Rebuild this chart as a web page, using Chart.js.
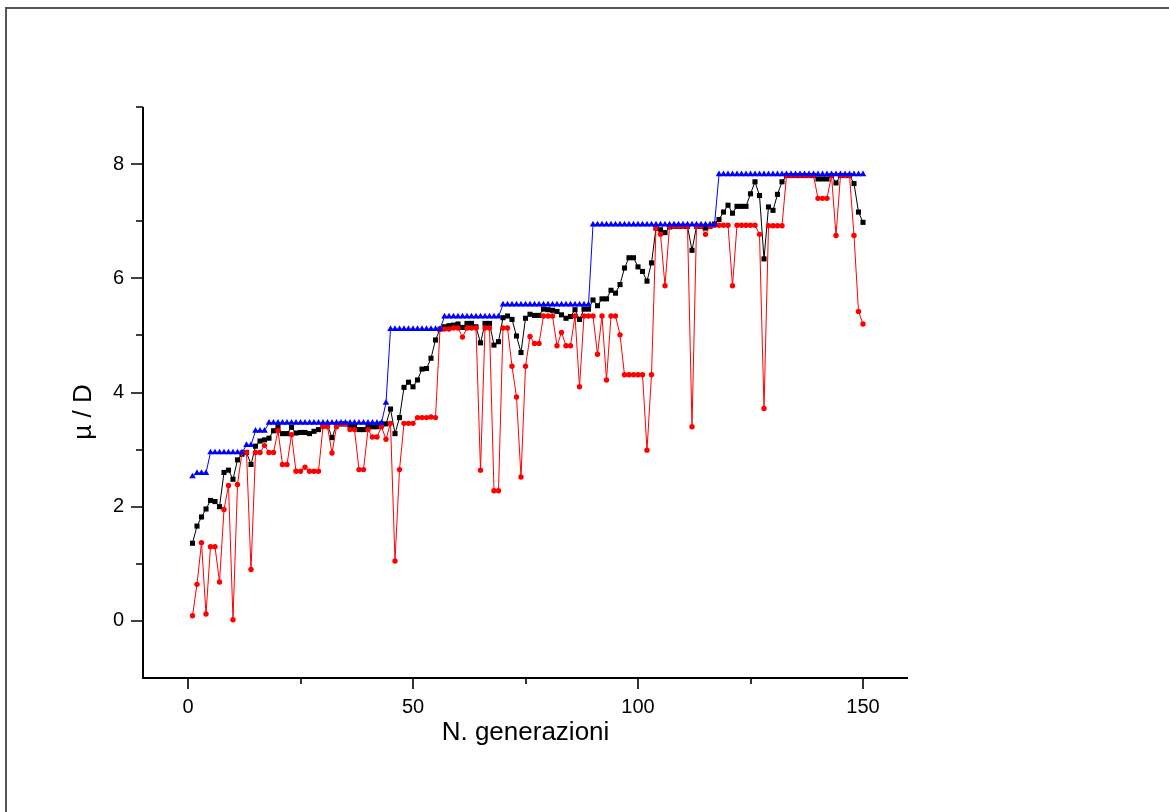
<!DOCTYPE html>
<html lang="it">
<head>
<meta charset="utf-8">
<title>mu / D per generazione</title>
<script src="https://cdn.jsdelivr.net/npm/chart.js@4.4.1/dist/chart.umd.min.js"></script>
<style>
  html, body { margin: 0; padding: 0; background: #fff; overflow: hidden; }
  #cornice { position: absolute; left: 5px; top: 7px; width: 1400px; height: 1000px; border: 2px solid #555; pointer-events: none; }
  #grafico { position: absolute; left: 0; top: 0; display: block; }
</style>
</head>
<body>
<div id="cornice"></div>
<canvas id="grafico" width="1169" height="812"></canvas>
<script>
// generazioni 1..150
const generazioni = Array.from({ length: 150 }, (_, i) => i + 1);

// valore massimo (blu, triangoli)
const valoriMax = [
  2.53, 2.59, 2.59, 2.59, 2.95, 2.95, 2.95, 2.95, 2.95, 2.95,
  2.95, 2.95, 3.08, 3.08, 3.33, 3.33, 3.33, 3.47, 3.47, 3.47,
  3.47, 3.47, 3.47, 3.47, 3.47, 3.47, 3.47, 3.47, 3.47, 3.47,
  3.47, 3.47, 3.47, 3.47, 3.47, 3.47, 3.47, 3.47, 3.47, 3.47,
  3.47, 3.47, 3.47, 3.82, 5.11, 5.11, 5.11, 5.11, 5.11, 5.11,
  5.11, 5.11, 5.11, 5.11, 5.11, 5.11, 5.33, 5.33, 5.33, 5.33,
  5.33, 5.33, 5.33, 5.33, 5.33, 5.33, 5.33, 5.33, 5.33, 5.54,
  5.54, 5.54, 5.54, 5.54, 5.54, 5.54, 5.54, 5.54, 5.54, 5.54,
  5.54, 5.54, 5.54, 5.54, 5.54, 5.54, 5.54, 5.54, 5.54, 6.94,
  6.94, 6.94, 6.94, 6.94, 6.94, 6.94, 6.94, 6.94, 6.94, 6.94,
  6.94, 6.94, 6.94, 6.94, 6.94, 6.94, 6.94, 6.94, 6.94, 6.94,
  6.94, 6.94, 6.94, 6.94, 6.94, 6.94, 6.94, 7.82, 7.82, 7.82,
  7.82, 7.82, 7.82, 7.82, 7.82, 7.82, 7.82, 7.82, 7.82, 7.82,
  7.82, 7.82, 7.82, 7.82, 7.82, 7.82, 7.82, 7.82, 7.82, 7.82,
  7.82, 7.82, 7.82, 7.82, 7.82, 7.82, 7.82, 7.82, 7.82, 7.82
];

// valore medio (nero, quadrati)
const valoriMedi = [
  1.36, 1.66, 1.82, 1.96, 2.11, 2.09, 2.00, 2.60, 2.64, 2.48,
  2.82, 2.92, 2.95, 2.74, 3.06, 3.15, 3.17, 3.20, 3.33, 3.40,
  3.28, 3.28, 3.39, 3.29, 3.30, 3.30, 3.28, 3.32, 3.35, 3.42,
  3.43, 3.21, 3.44, 3.45, 3.45, 3.42, 3.42, 3.35, 3.35, 3.42,
  3.40, 3.40, 3.45, 3.45, 3.71, 3.28, 3.56, 4.09, 4.18, 4.10,
  4.22, 4.41, 4.42, 4.60, 4.92, 5.11, 5.15, 5.17, 5.18, 5.20,
  5.14, 5.21, 5.21, 5.15, 4.87, 5.21, 5.21, 4.83, 4.89, 5.31,
  5.34, 5.28, 4.99, 4.70, 5.30, 5.37, 5.35, 5.35, 5.46, 5.45,
  5.44, 5.42, 5.36, 5.30, 5.33, 5.45, 5.28, 5.46, 5.46, 5.62,
  5.52, 5.64, 5.64, 5.79, 5.74, 5.89, 6.18, 6.36, 6.36, 6.20,
  6.12, 5.95, 6.27, 6.88, 6.85, 6.80, 6.90, 6.91, 6.91, 6.91,
  6.91, 6.49, 6.91, 6.91, 6.88, 6.91, 6.95, 7.03, 7.16, 7.28,
  7.14, 7.26, 7.26, 7.26, 7.48, 7.69, 7.45, 6.34, 7.25, 7.19,
  7.47, 7.69, 7.80, 7.80, 7.80, 7.80, 7.80, 7.80, 7.80, 7.74,
  7.74, 7.74, 7.80, 7.67, 7.80, 7.80, 7.80, 7.66, 7.16, 6.98
];

// valore minimo (rosso, cerchi)
const valoriMin = [
  0.09, 0.64, 1.37, 0.12, 1.30, 1.30, 0.68, 1.95, 2.37, 0.02,
  2.39, 2.95, 2.95, 0.90, 2.95, 2.95, 3.07, 2.95, 2.95, 3.33,
  2.74, 2.74, 3.26, 2.62, 2.62, 2.69, 2.62, 2.62, 2.62, 3.40,
  3.40, 2.94, 3.40, 3.45, 3.45, 3.35, 3.35, 2.65, 2.65, 3.35,
  3.22, 3.22, 3.40, 3.18, 3.46, 1.05, 2.65, 3.46, 3.46, 3.46,
  3.56, 3.56, 3.56, 3.57, 3.56, 5.11, 5.11, 5.11, 5.13, 5.13,
  4.97, 5.13, 5.13, 5.13, 2.64, 5.13, 5.13, 2.28, 2.28, 5.13,
  5.13, 4.46, 3.92, 2.52, 4.46, 4.98, 4.86, 4.86, 5.34, 5.34,
  5.34, 4.82, 5.05, 4.82, 4.82, 5.34, 4.10, 5.34, 5.34, 5.34,
  4.67, 5.34, 4.22, 5.34, 5.34, 5.01, 4.31, 4.31, 4.31, 4.31,
  4.31, 2.99, 4.31, 6.88, 6.77, 5.87, 6.91, 6.91, 6.91, 6.91,
  6.91, 3.40, 6.91, 6.91, 6.77, 6.91, 6.93, 6.93, 6.93, 6.93,
  5.87, 6.93, 6.93, 6.93, 6.93, 6.93, 6.77, 3.72, 6.92, 6.92,
  6.92, 6.92, 7.80, 7.80, 7.80, 7.80, 7.80, 7.80, 7.80, 7.40,
  7.40, 7.40, 7.80, 6.75, 7.80, 7.80, 7.80, 6.75, 5.42, 5.20
];

const tickX = [0, 50, 100, 150];
const tickXMinori = [25, 75, 125];
const tickY = [0, 2, 4, 6, 8];
const tickYMinori = [1, 3, 5, 7, 9];

const FONT = "'Liberation Sans', Arial, Helvetica, sans-serif";

function punti(valori) {
  return generazioni.map((g, i) => ({ x: g, y: valori[i] }));
}

// assi, tacche e titoli disegnati a mano (tacche maggiori e minori di lunghezza diversa)
const pluginAssi = {
  id: "assi",
  afterDraw(chart) {
    const { ctx, chartArea } = chart;
    const sx = chart.scales.x;
    const sy = chart.scales.y;
    ctx.save();
    ctx.strokeStyle = "#000";
    ctx.lineWidth = 2;
    ctx.beginPath();
    ctx.moveTo(chartArea.left, chartArea.top);
    ctx.lineTo(chartArea.left, chartArea.bottom);
    ctx.lineTo(chartArea.right, chartArea.bottom);
    ctx.stroke();

    ctx.lineWidth = 1.6;
    ctx.beginPath();
    tickX.forEach(v => {
      const px = Math.round(sx.getPixelForValue(v));
      ctx.moveTo(px, chartArea.bottom);
      ctx.lineTo(px, chartArea.bottom + 11);
    });
    tickXMinori.forEach(v => {
      const px = Math.round(sx.getPixelForValue(v));
      ctx.moveTo(px, chartArea.bottom);
      ctx.lineTo(px, chartArea.bottom + 6);
    });
    tickY.forEach(v => {
      const py = Math.round(sy.getPixelForValue(v));
      ctx.moveTo(chartArea.left, py);
      ctx.lineTo(chartArea.left - 12, py);
    });
    tickYMinori.forEach(v => {
      const py = Math.round(sy.getPixelForValue(v));
      ctx.moveTo(chartArea.left, py);
      ctx.lineTo(chartArea.left - 7, py);
    });
    ctx.stroke();

    ctx.fillStyle = "#000";
    ctx.font = "26px " + FONT;
    ctx.textAlign = "center";
    ctx.textBaseline = "alphabetic";
    ctx.fillText("N. generazioni", (chartArea.left + chartArea.right) / 2, 740);

    ctx.translate(91, 412);
    ctx.rotate(-Math.PI / 2);
    ctx.fillText("\u00B5 / D", 0, 0);
    ctx.restore();
  }
};

const ctx = document.getElementById("grafico").getContext("2d");

new Chart(ctx, {
  type: "line",
  data: {
    datasets: [
      {
        label: "max",
        data: punti(valoriMax),
        borderColor: "#0000ff",
        backgroundColor: "#0000ff",
        borderWidth: 1,
        pointStyle: "triangle",
        pointRadius: 3.8,
        pointBorderWidth: 0
      },
      {
        label: "min",
        data: punti(valoriMin),
        borderColor: "#ff0000",
        backgroundColor: "#ff0000",
        borderWidth: 1,
        pointStyle: "circle",
        pointRadius: 2.7,
        pointBorderWidth: 0
      },
      {
        label: "media",
        data: punti(valoriMedi),
        borderColor: "#000000",
        backgroundColor: "#000000",
        borderWidth: 1,
        pointStyle: "rect",
        pointRadius: 3.6,
        pointBorderWidth: 0
      }
    ]
  },
  options: {
    responsive: false,
    animation: false,
    layout: { padding: { top: 107, right: 261, left: 0, bottom: 0 } },
    plugins: {
      legend: { display: false },
      tooltip: { enabled: false }
    },
    elements: { line: { tension: 0 } },
    scales: {
      x: {
        type: "linear",
        min: -10,
        max: 160,
        grid: { display: false, drawTicks: false },
        border: { display: false },
        afterBuildTicks: scale => { scale.ticks = tickX.map(v => ({ value: v })); },
        afterFit: scale => { scale.height = 134; },
        ticks: {
          color: "#000",
          padding: 17,
          maxRotation: 0,
          font: { family: FONT, size: 20 }
        }
      },
      y: {
        min: -1,
        max: 9,
        grid: { display: false, drawTicks: false },
        border: { display: false },
        afterBuildTicks: scale => { scale.ticks = tickY.map(v => ({ value: v })); },
        afterFit: scale => { scale.width = 143; },
        ticks: {
          color: "#000",
          padding: 19,
          font: { family: FONT, size: 20 }
        }
      }
    }
  },
  plugins: [pluginAssi]
});
</script>
</body>
</html>
